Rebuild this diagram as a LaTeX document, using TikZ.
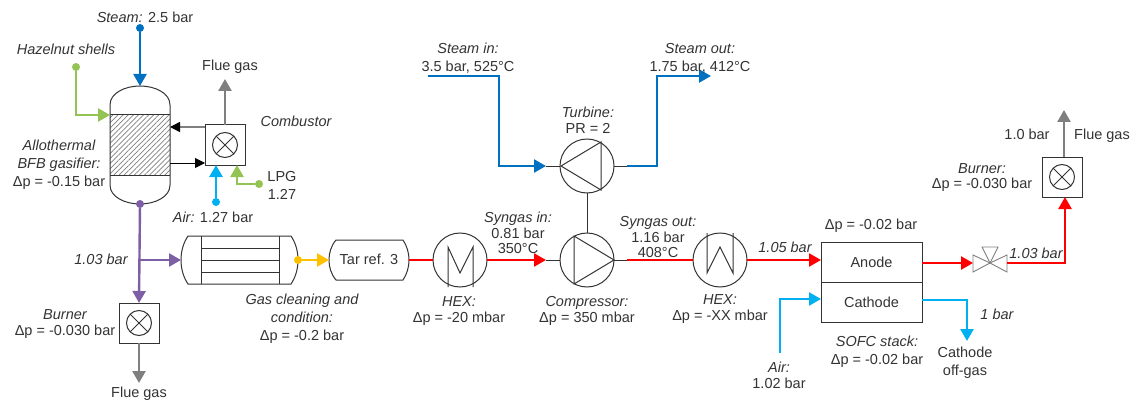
\documentclass[tikz,border=0pt]{standalone}
\usepackage{fontspec}
\setmainfont{Liberation Sans}
\usetikzlibrary{arrows.meta,patterns.meta,calc}
\definecolor{cblue}{HTML}{0070C0}
\definecolor{ccyan}{HTML}{00B0F0}
\definecolor{cgreen}{HTML}{92C353}
\definecolor{cpurple}{HTML}{7D5FA5}
\definecolor{corange}{HTML}{FFC000}
\definecolor{cred}{HTML}{FF0000}
\definecolor{cgray}{HTML}{7F7F7F}
\definecolor{cink}{HTML}{333333}
\tikzset{
  flow/.style={line width=2.4pt,-{Triangle[length=12pt,width=13pt]}},
  plain/.style={line width=2.4pt},
  stub/.style={line width=1pt,color=cink},
  txt/.style={font=\fontsize{14.5}{15.5}\selectfont,text=cink,align=center,inner sep=0pt},
  unitbox/.style={draw=cink,line width=1pt,minimum width=40pt,minimum height=40pt,inner sep=0pt,outer sep=0pt},
  burnmark/.style={draw=cink,line width=1pt,circle,minimum size=25pt,inner sep=0pt,outer sep=0pt},
  machine/.style={draw=cink,line width=1pt,circle,minimum size=54pt,inner sep=0pt,outer sep=0pt},
  ghost/.style={inner sep=0pt,outer sep=0pt},
  dotmark/.style={circle,inner sep=0pt,outer sep=0pt,minimum size=8pt},
  cellbox/.style={draw=cink,line width=1pt,minimum width=101pt,minimum height=40pt,inner sep=0pt,outer sep=0pt,font=\fontsize{14.5}{15.5}\selectfont,text=cink},
  innerline/.style={draw=cink,line width=1pt}
}
\begin{document}
\begin{tikzpicture}[x=1pt,y=-1pt]
\useasboundingbox (0,0) rectangle (1134,401);
% ---- gasifier
\node[ghost,minimum width=60pt,minimum height=118pt] (gas) at (140,145) {};
\fill[pattern={Lines[angle=45,distance=3.6pt,line width=.7pt]},pattern color=cgray] (110,115) rectangle (170,175);
\draw[cink,line width=1pt] (110,105) .. controls (110,93) and (125,86) .. (140,86) .. controls (155,86) and (170,93) .. (170,105) -- (170,185) .. controls (170,197) and (155,204) .. (140,204) .. controls (125,204) and (110,197) .. (110,185) -- cycle;
\draw[cink,line width=1pt] (110,115) -- (170,115) (110,175) -- (170,175);
% ---- combustor
\node[unitbox] (comb) at (225,145) {};
\node[burnmark] (combm) at (225,145) {};
\draw[cink,line width=1pt] (combm.45) -- (combm.225) (combm.135) -- (combm.315);
% ---- lower burner
\node[unitbox] (burnA) at (139,323) {};
\node[burnmark] (burnAm) at (139,323) {};
\draw[cink,line width=1pt] (burnAm.45) -- (burnAm.225) (burnAm.135) -- (burnAm.315);
% ---- upper burner
\node[unitbox] (burnB) at (1062,177) {};
\node[burnmark] (burnBm) at (1062,177) {};
\draw[cink,line width=1pt] (burnBm.45) -- (burnBm.225) (burnBm.135) -- (burnBm.315);
% ---- filter
\node[ghost,minimum width=117pt,minimum height=48pt] (filt) at (239.5,260) {};
\draw[cink,line width=1pt] (188,236) .. controls (184,242) and (181,250) .. (181,260) .. controls (181,270) and (184,278) .. (188,284) -- (291,284) .. controls (295,278) and (298,270) .. (298,260) .. controls (298,250) and (295,242) .. (291,236) -- cycle;
\draw[innerline] (201,236) -- (201,284) (279,236) -- (279,284) (201,248) -- (279,248) (201,260) -- (279,260) (201,272) -- (279,272);
% ---- tar reformer
\node[ghost,minimum width=80pt,minimum height=40pt] (tar) at (369,260) {};
\draw[cink,line width=1pt] (336,240) .. controls (331,246) and (329,253) .. (329,260) .. controls (329,267) and (331,274) .. (336,280) -- (403,280) .. controls (407,274) and (409,267) .. (409,260) .. controls (409,253) and (407,246) .. (403,240) -- cycle;
\node[txt] (tartxt) at (369,259) {Tar ref. 3};
% ---- machines
\node[machine] (hexA) at (460,260) {};
\draw[innerline] (448,287) -- (448,247) -- (460,273) -- (473,247) -- (473,287);
\node[machine] (comp) at (587,260) {};
\draw[innerline] (574,236) -- (574,284) -- (614,260) -- cycle;
\node[machine] (turb) at (587,166) {};
\draw[innerline] (601,142) -- (601,190) -- (561,166) -- cycle;
\node[machine] (hexB) at (720,260) {};
\draw[innerline] (707,233) -- (707,273) -- (720,247) -- (733,273) -- (733,233);
\draw[stub] (turb.south) -- (comp.north);
% ---- SOFC
\node[cellbox] (anode) at (871.5,262) {Anode};
\node[cellbox] (cath) at (871.5,302) {Cathode};
% ---- valve
\coordinate (valve) at (990,263);
\coordinate (valveL) at (973,263);
\coordinate (valveR) at (1007,263);
\draw[cgray,line width=.9pt,fill=white] (973,255) -- (973,272) -- (valve) -- cycle;
\draw[cgray,line width=.9pt,fill=white] (1007,255) -- (1007,272) -- (valve) -- cycle;
\draw[cgray,line width=.9pt,fill=white] (982,247) -- (998,247) -- (valve) -- cycle;
% ---- free ends and dots
\node[dotmark,fill=cblue] (dSteam) at (140,28) {};
\node[dotmark,fill=cgreen] (dHaz) at (76,67) {};
\node[dotmark,fill=ccyan] (dAir) at (216,202) {};
\node[dotmark,fill=cgreen] (dLpg) at (259,184) {};
\node[dotmark,fill=cpurple] (dGas) at (140,204) {};
\node[dotmark,fill=corange] (dFilt) at (298,260) {};
\coordinate (flueA) at (225,79);
\coordinate (flueB) at (139,383);
\coordinate (flueC) at (1064,110);
\coordinate (sIn) at (428,76);
\coordinate (sOut) at (711,76);
\coordinate (aIn) at (780,353);
\coordinate (cOff) at (967,341);
\coordinate (junc) at (140,260);
\coordinate (tStubL) at (546,166);
\coordinate (tStubR) at (627,166);
\coordinate (cStubL) at (546,260);
\coordinate (cStubR) at (627,260);
% ---- connectors
\draw[flow,cblue] (dSteam) -- (gas.north);
\draw[flow,cgreen] (dHaz) |- (110,115);
\draw[flow,cgray] (comb.north) -- (flueA);
\draw[line width=1.6pt,cgray,-{Triangle[length=10pt,width=10pt,color=black]}] (comb.west |- 0,127) -- (170,127);
\draw[line width=1pt,black,-{Triangle[length=10pt,width=10pt,color=black]}] (170,163) -- (comb.west |- 0,163);
\draw[flow,ccyan] (dAir) -- (216,165);
\draw[flow,cgreen] (dLpg) -| (237,165);
\draw[flow,cpurple] (dGas) -- (burnA.north);
\draw[flow,cpurple] (junc) -- (filt.west);
\draw[flow,cgray] (burnA.south) -- (flueB);
\draw[flow,corange] (dFilt) -- (tar.west);
\draw[plain,cred] (tar.east) -- (hexA.west);
\draw[flow,cred] (hexA.east) -- (cStubL);
\draw[stub] (cStubL) -- (comp.west);
\draw[stub] (comp.east) -- (cStubR);
\draw[plain,cred] (cStubR) -- (hexB.west);
\draw[flow,cred] (hexB.east) -- (anode.west |- hexB.east);
\draw[flow,cred] (anode.east |- valveL) -- (valveL);
\draw[flow,cred] (valveR) -| (1065,197);
\draw[flow,cgray] (1064,157) -- (flueC);
\draw[flow,cblue] (sIn) -| (499,166) -- (tStubL);
\draw[stub] (tStubL) -- (turb.west);
\draw[stub] (turb.east) -- (tStubR);
\draw[flow,cblue] (tStubR) -| (657,76) -- (sOut);
\draw[flow,ccyan] (aIn) |- (cath.west |- 0,299);
\draw[flow,ccyan] (cath.east |- 0,300) -| (cOff);
% ---- labels
\node[txt] (l1) at (145,17) {\itshape Steam:\upshape{} 2.5 bar};
\node[txt] (l2) at (66,49) {\itshape Hazelnut shells};
\node[txt] (l3) at (230,67) {Flue gas};
\node[txt] (l4) at (296,121) {\itshape Combustor};
\node[txt] (l5) at (59,165) {\itshape Allothermal\\[2.5pt]\itshape BFB gasifier:\\[2.5pt]Δp = -0.15 bar};
\node[txt] (l6) at (282,185) {LPG\\[2.5pt]1.27};
\node[txt] (l7) at (213,217) {\itshape Air:\upshape{} 1.27 bar};
\node[txt] (l8) at (101,259) {\itshape 1.03 bar};
\node[txt] (l9) at (65,324) {\itshape Burner\\Δp = -0.030 bar};
\node[txt] (l10) at (139,394) {Flue gas};
\node[txt] (l11) at (302,319) {\itshape Gas cleaning and\\[2.5pt]\itshape condition:\\[2.5pt]Δp = -0.2 bar};
\node[txt] (l12) at (459,311) {\itshape HEX:\\Δp = -20 mbar};
\node[txt] (l13) at (587,311) {\itshape Compressor:\\Δp = 350 mbar};
\node[txt] (l14) at (720,309) {\itshape HEX:\\Δp = -XX mbar};
\node[txt] (l15) at (518,233) {\itshape Syngas in:\\0.81 bar\\350°C};
\node[txt] (l16) at (658,237.5) {\itshape Syngas out:\\1.16 bar\\408°C};
\node[txt] (l17) at (785,247) {\itshape 1.05 bar};
\node[txt] (l18) at (588,120) {\itshape Turbine:\\PR = 2};
\node[txt] (l19) at (468,58) {\itshape Steam in:\\[2.5pt]3.5 bar, 525°C};
\node[txt] (l20) at (700,58) {\itshape Steam out:\\[2.5pt]1.75 bar, 412°C};
\node[txt] (l21) at (871,226) {Δp = -0.02 bar};
\node[txt] (l22) at (877,352) {\itshape SOFC stack:\\[2.5pt]Δp = -0.02 bar};
\node[txt] (l23) at (779,375.5) {\itshape Air:\\1.02 bar};
\node[txt] (l24) at (965,363) {Cathode\\[2.5pt]off-gas};
\node[txt] (l25) at (997,314) {\itshape 1 bar};
\node[txt] (l26) at (1036,253) {\itshape 1.03 bar};
\node[txt] (l27) at (982,177.5) {\itshape Burner:\\Δp = -0.030 bar};
\node[txt] (l28) at (1027,134) {1.0 bar};
\node[txt] (l29) at (1102,136) {Flue gas};
\end{tikzpicture}
\end{document}
